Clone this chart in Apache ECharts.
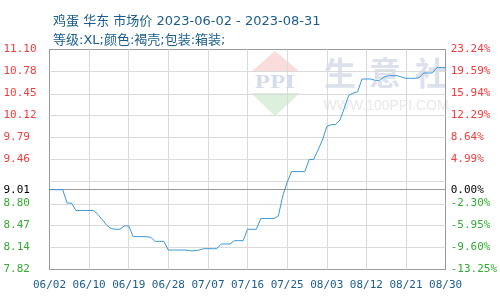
<!DOCTYPE html>
<html>
<head>
<meta charset="utf-8">
<script src="https://cdn.jsdelivr.net/npm/echarts@6/dist/echarts.min.js"></script>
<style>html,body{margin:0;padding:0;background:#fff;}#c{width:500px;height:300px;}</style>
</head>
<body>
<div id="c"></div>
<script>
// ---- data ----
const titleLine1 = '鸡蛋 华东 市场价 2023-06-02 - 2023-08-31';
const titleLine2 = '等级:XL;颜色:褐壳;包装:箱装;';
const xTickLabels = ['06/02','06/10','06/19','06/28','07/07','07/16','07/25','08/03','08/12','08/21','08/30'];
const prices = [
  9.01, 9.01, 9.01, 9.01, 8.81, 8.81, 8.70, 8.70, 8.70, 8.70,
  8.70, 8.64, 8.56, 8.48, 8.43, 8.42, 8.42, 8.47, 8.47, 8.31,
  8.31, 8.31, 8.31, 8.30, 8.24, 8.24, 8.24, 8.11, 8.11, 8.11,
  8.11, 8.11, 8.10, 8.10, 8.11, 8.13, 8.13, 8.13, 8.13, 8.20,
  8.20, 8.20, 8.25, 8.25, 8.25, 8.42, 8.42, 8.42, 8.58, 8.58,
  8.58, 8.58, 8.62, 8.92, 9.12, 9.28, 9.28, 9.28, 9.28, 9.46,
  9.46, 9.60, 9.75, 9.95, 9.98, 9.98, 10.05, 10.23, 10.42, 10.45,
  10.47, 10.66, 10.66, 10.66, 10.64, 10.64, 10.69, 10.71, 10.71, 10.71,
  10.69, 10.67, 10.67, 10.67, 10.68, 10.75, 10.75, 10.75, 10.83, 10.83,
  10.83
];
const basePrice = 9.01;
const yMin = 7.82, yMax = 11.10, yStep = 0.328;
const leftLabelValues = [7.82, 8.148, 8.476, 8.804, 9.01, 9.46, 9.788, 10.116, 10.444, 10.772, 11.10];
const leftLabels = ['7.82','8.14','8.47','8.80','9.01','9.46','9.79','10.12','10.45','10.78','11.10'];
const rightLabels = ['-13.25%','-9.60%','-5.95%','-2.30%','0.00%','4.99%','8.64%','12.29%','15.94%','19.59%','23.24%'];
const xTickEvery = 9;

// categories: one per day
const categories = [];
{
  const d0 = new Date(2023, 5, 1);
  for (let i = 0; i < prices.length; i++) {
    const d = new Date(d0.getTime() + i * 86400000);
    categories.push(String(d.getMonth() + 1).padStart(2, '0') + '/' + String(d.getDate()).padStart(2, '0'));
  }
}

const RED = '#f23c3c', GREEN = '#34ab34', BLUE = '#1b5c8e';
function nearestIdx(v) {
  const n = Number(v);
  let best = 0, bd = Infinity;
  leftLabelValues.forEach((x, i) => { const d = Math.abs(x - n); if (d < bd) { bd = d; best = i; } });
  return best;
}
function labelColor(v) {
  const val = leftLabelValues[nearestIdx(v)];
  if (Math.abs(val - basePrice) < 1e-6) return '#000';
  return val > basePrice ? RED : GREEN;
}
const monoFont = 'DejaVu Sans Mono';
const border = {show: true, onZero: false, lineStyle: {color: '#999', width: 1}};

// grid lines drawn as mark lines at the axis tick values
const gridStyle = {color: '#dadada', type: 'solid', width: 1};
const gridMarks = [];
for (let k = 1; k < 10; k++) gridMarks.push({yAxis: +(yMin + k * yStep).toFixed(3), lineStyle: gridStyle});
for (let i = xTickEvery; i < categories.length - 1; i += xTickEvery) gridMarks.push({xAxis: categories[i], lineStyle: gridStyle});
gridMarks.push({yAxis: basePrice, lineStyle: {color: '#999', type: 'solid', width: 1}});

const chart = echarts.init(document.getElementById('c'), null, {renderer: 'canvas'});
chart.setOption({
  animation: false,
  backgroundColor: '#fff',
  title: {
    text: titleLine1 + '\n' + titleLine2,
    left: 48, top: 7,
    textStyle: {color: BLUE, fontSize: 13, fontWeight: 'normal', fontFamily: '"DejaVu Sans", "Noto Sans CJK SC"', lineHeight: 19}
  },
  grid: {left: 49.5, right: 50.5, top: 49.5, bottom: 30.5, show: false},
  graphic: [
    {type: 'polygon', z: -1, shape: {points: [[251, 72], [275, 51], [300, 72]]}, style: {fill: '#fadcdc'}},
    {type: 'polygon', z: -1, shape: {points: [[251, 93], [275, 116], [300, 93]]}, style: {fill: '#ddefdd'}},
    {type: 'text', z: -1, x: 275, y: 83, scaleX: 1.3, style: {text: 'PPI', fill: '#d4dbec', font: 'bold 19px "Liberation Serif"', align: 'center', verticalAlign: 'middle'}},
    {type: 'text', z: -1, x: 340, y: 73, style: {text: '生', fill: '#dde1ed', font: 'bold 32px "Noto Sans CJK SC"', align: 'center', verticalAlign: 'middle'}},
    {type: 'text', z: -1, x: 385, y: 73, style: {text: '意', fill: '#dde1ed', font: 'bold 32px "Noto Sans CJK SC"', align: 'center', verticalAlign: 'middle'}},
    {type: 'text', z: -1, x: 431, y: 73, style: {text: '社', fill: '#dde1ed', font: 'bold 32px "Noto Sans CJK SC"', align: 'center', verticalAlign: 'middle'}},
    {type: 'text', z: -1, x: 386, y: 106, style: {text: 'WWW.100PPI.COM', fill: '#e8e8e8', font: '14px "Liberation Sans"', align: 'center', verticalAlign: 'middle'}}
  ],
  xAxis: [
    {
      type: 'category',
      data: categories,
      boundaryGap: false,
      axisLine: border,
      axisTick: {show: false},
      axisLabel: {
        interval: xTickEvery - 1, margin: 10, color: BLUE, fontSize: 11, fontFamily: monoFont,
        formatter: (v, i) => xTickLabels[Math.round(i / xTickEvery)]
      },
      splitLine: {show: false}
    },
    {
      type: 'category', position: 'top', data: categories, boundaryGap: false,
      axisLine: border, axisTick: {show: false}, axisLabel: {show: false}, splitLine: {show: false}
    }
  ],
  yAxis: [
    {
      type: 'value', position: 'left', min: yMin, max: yMax, interval: yStep,
      axisLine: border, axisTick: {show: false},
      splitLine: {show: false},
      axisLabel: {
        customValues: leftLabelValues,
        align: 'left', margin: 46, fontSize: 11, fontFamily: monoFont,
        formatter: (v) => leftLabels[nearestIdx(v)],
        color: labelColor
      }
    },
    {
      type: 'value', position: 'right', min: yMin, max: yMax, interval: yStep,
      axisLine: border, axisTick: {show: false},
      splitLine: {show: false},
      axisLabel: {
        customValues: leftLabelValues,
        align: 'left', margin: 5, fontSize: 11, fontFamily: monoFont,
        formatter: (v) => rightLabels[nearestIdx(v)],
        color: labelColor
      }
    }
  ],
  series: [{
    type: 'line',
    data: prices,
    showSymbol: false,
    symbol: 'none',
    z: 5,
    lineStyle: {color: '#3a97d8', width: 1},
    markLine: {
      silent: true, symbol: 'none', label: {show: false}, z: 1,
      data: gridMarks
    }
  }]
});
</script>
</body>
</html>
